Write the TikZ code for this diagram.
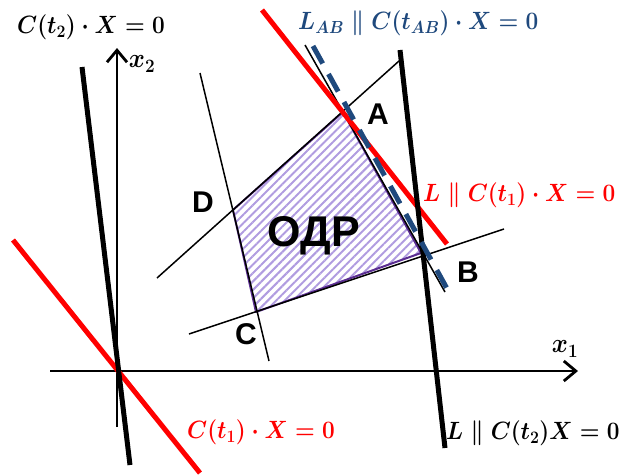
\documentclass[tikz,border=0pt]{standalone}
\usepackage{fix-cm}
\usepackage{amsmath,bm,graphicx}
\usepackage[no-math]{fontspec}
\setmainfont{Liberation Sans}
\usetikzlibrary{arrows.meta,patterns.meta}
\definecolor{navyblue}{HTML}{1F497D}
\definecolor{hatchpurple}{HTML}{B09CE0}
\definecolor{edgepurple}{HTML}{5A2D91}
\newcommand\eqbox[1]{\scalebox{0.905}[1]{\boldmath$\bm{#1}$}}
\begin{document}
\begin{tikzpicture}[x=1pt,y=-1pt,
  thinln/.style={line width=1.5pt},
  thickln/.style={line width=5pt},
  redln/.style={line width=5pt, draw=red},
  axisln/.style={line width=2.8pt,-{Straight Barb[length=12pt,width=20pt]}},
  lbl/.style={font=\fontsize{30}{32}\selectfont\bfseries, inner sep=0pt},
  eq/.style={font=\fontsize{25}{28}\selectfont, inner sep=0pt},
]
\useasboundingbox (0,0) rectangle (620,475);
% vertices
\coordinate (vA) at (343,112);
\coordinate (vB) at (421,253);
\coordinate (vC) at (256,312);
\coordinate (vD) at (233,210);
% line end points
\coordinate (x1s) at (50,371);
\coordinate (x1e) at (578,371);
\coordinate (x2s) at (117,427);
\coordinate (x2e) at (117,48);
\coordinate (k1a) at (82,67);
\coordinate (k1b) at (130,465);
\coordinate (r1a) at (13,240);
\coordinate (r1b) at (200,473);
\coordinate (r2a) at (262,10);
\coordinate (r2b) at (447,244);
\coordinate (k2a) at (400,50);
\coordinate (k2b) at (445,448);
\coordinate (dc1) at (200,73);
\coordinate (dc2) at (269,361);
\coordinate (da1) at (157,278);
\coordinate (da2) at (399,61);
\coordinate (cb1) at (189,334);
\coordinate (cb2) at (504,229);
\coordinate (ab1) at (305,45);
\coordinate (ab2) at (445,292);
\coordinate (bl1) at (313,46);
\coordinate (bl2) at (450,294);
% feasible region
\fill[pattern={Lines[angle=45,distance=6pt,line width=2pt]}, pattern color=hatchpurple]
  (vA) -- (vB) -- (vC) -- (vD) -- cycle;
\draw[edgepurple, line width=2pt, line join=round] (vA) -- (vB) -- (vC) -- (vD) -- cycle;
% axes
\draw[axisln] (x1s) -- (x1e);
\draw[axisln] (x2s) -- (x2e);
% thin constraint lines
\draw[thinln] (dc1) -- (dc2);
\draw[thinln] (da1) -- (da2);
\draw[thinln] (cb1) -- (cb2);
\draw[thinln] (ab1) -- (ab2);
% red lines
\draw[redln] (r1a) -- (r1b);
\draw[redln] (r2a) -- (r2b);
% thick black lines
\draw[thickln] (k1a) -- (k1b);
\draw[thickln] (k2a) -- (k2b);
% blue dashed
\draw[navyblue, line width=5pt, dash pattern=on 20pt off 12pt] (bl1) -- (bl2);
% labels
\node[lbl] (lA) at (378,114) {A};
\node[lbl] (lB) at (468,272) {B};
\node[lbl] (lC) at (246,334) {C};
\node[lbl] (lD) at (203,202) {D};
\node[font=\fontsize{43}{46}\selectfont\bfseries, inner sep=0pt] (odr) at (314,236) {ОДР};
\node[eq, font=\fontsize{27}{30}\selectfont] (lx2) at (142,64) {\eqbox{x_2}};
\node[eq, font=\fontsize{27}{30}\selectfont] (lx1) at (565,349) {\eqbox{x_1}};
\node[eq, anchor=west] (e1) at (17,27) {\eqbox{C(t_2)\cdot X=0}};
\node[eq, text=navyblue, anchor=west] (e2) at (298,23) {\eqbox{L_{AB}\parallel C(t_{AB})\cdot X=0}};
\node[eq, text=red, anchor=west] (e3) at (423,195) {\eqbox{L\parallel C(t_1)\cdot X=0}};
\node[eq, text=red, anchor=west] (e4) at (187,432) {\eqbox{C(t_1)\cdot X=0}};
\node[eq, anchor=west] (e5) at (446,433) {\eqbox{L\parallel C(t_2)X=0}};
\end{tikzpicture}
\end{document}
